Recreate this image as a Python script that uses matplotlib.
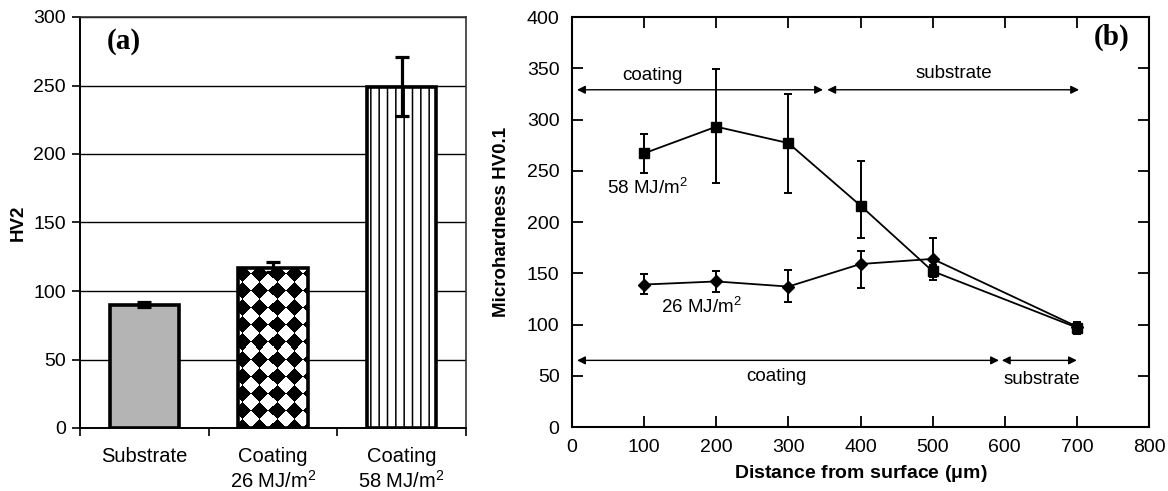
import matplotlib
matplotlib.use("Agg")
import matplotlib.pyplot as plt
import numpy as np

plt.rcParams['font.family'] = ['Liberation Sans', 'DejaVu Sans']
plt.rcParams['mathtext.fontset'] = 'custom'
plt.rcParams['mathtext.rm'] = 'Liberation Sans'
plt.rcParams['mathtext.it'] = 'Liberation Sans:italic'
plt.rcParams['mathtext.bf'] = 'Liberation Sans:bold'

# ---- panel (a) data ----
bar_labels = ["Substrate", "Coating\n26 MJ/m$^{2}$", "Coating\n58 MJ/m$^{2}$"]
bar_values = [90, 117, 249]
bar_err_low = [2, 3, 21]
bar_err_up = [2, 4, 22]
a_yticks = [0, 50, 100, 150, 200, 250, 300]

# ---- panel (b) data ----
depth = [100, 200, 300, 400, 500, 700]
hv_58 = [267, 293, 277, 216, 152, 97]
hv_58_err_low = [19, 55, 49, 32, 9, 6]
hv_58_err_up = [19, 56, 48, 44, 6, 4]
hv_26 = [139, 142, 137, 159, 164, 98]
hv_26_err_low = [9, 10, 15, 23, 18, 6]
hv_26_err_up = [10, 10, 16, 13, 20, 4]
b_xticks = [0, 100, 200, 300, 400, 500, 600, 700, 800]
b_yticks = [0, 50, 100, 150, 200, 250, 300, 350, 400]

fig = plt.figure(figsize=(11.68, 4.91), dpi=100)

# ================= panel (a) =================
axa = fig.add_axes([80/1168, 1-428/491, 386/1168, 411/491])
x = np.arange(len(bar_values))
w = 0.54
axa.set_xlim(-0.5, 2.5)
axa.set_ylim(0, 300)
for yv in a_yticks[1:]:
    axa.axhline(yv, color='black', lw=1.0, zorder=0)

# bar 1: grey
axa.bar(x[0], bar_values[0], w, color='#b4b4b4', edgecolor='black', lw=2.6, zorder=2)

# bar 2: rotated checkerboard texture clipped to the bar
bar2 = axa.bar(x[1], bar_values[1], w, color='white', edgecolor='black', lw=2.6, zorder=3)[0]
bb = axa.get_window_extent()
px_x = bb.width / 3.0
px_y = bb.height / 300.0
W = int(round(w * px_x))
H = int(round(bar_values[1] * px_y))
jj, ii = np.mgrid[0:H, 0:W]
cell = 17.0
pattern = (np.floor((ii + jj + 4) / cell) + np.floor((ii - jj + 4 + 1000 * cell) / cell)) % 2
tex = axa.imshow(pattern, cmap='gray', vmin=0, vmax=1, interpolation='nearest', aspect='auto',
                 extent=(x[1] - w / 2, x[1] + w / 2, 0, bar_values[1]), origin='lower', zorder=2.5)
tex.set_clip_path(bar2)
bar2.set_facecolor('none')

# bar 3: vertical lines
plt.rcParams['hatch.linewidth'] = 1.1
axa.bar(x[2], bar_values[2], w, color='white', edgecolor='black', hatch='||', lw=0, zorder=2)
axa.bar(x[2], bar_values[2], w, fill=False, edgecolor='black', lw=2.6, zorder=3)

axa.errorbar(x, bar_values, yerr=[bar_err_low, bar_err_up], fmt='none', ecolor='black',
             elinewidth=2.3, capsize=5, capthick=2.3, zorder=4)

axa.set_xlim(-0.5, 2.5)
axa.set_ylim(0, 300)
axa.set_yticks(a_yticks)
axa.set_xticks([-0.5, 0.5, 1.5, 2.5])
axa.set_xticklabels([])
axa.set_xticks(x, minor=True)
axa.set_xticklabels(bar_labels, minor=True, fontsize=14.5, linespacing=1.2)
axa.tick_params(axis='x', which='minor', length=0, pad=14)
axa.tick_params(axis='x', which='major', length=6, width=1.2, direction='out')
axa.tick_params(axis='y', length=6, width=1.2, direction='out', labelsize=14, pad=4)
axa.set_ylabel("HV2", fontsize=13.5, fontweight='bold')
axa.yaxis.set_label_coords(-0.137, 0.5)
for s in ['left', 'bottom']:
    axa.spines[s].set_linewidth(1.4)
for s in ['top', 'right']:
    axa.spines[s].set_color('#333333')
    axa.spines[s].set_linewidth(1.2)
axa.text(0.07, 0.94, "(a)", transform=axa.transAxes, fontsize=21, fontweight='bold',
         family='Liberation Serif', ha='left', va='center')

# ================= panel (b) =================
axb = fig.add_axes([572/1168, 1-427/491, 577/1168, 410/491])
axb.errorbar(depth, hv_58, yerr=[hv_58_err_low, hv_58_err_up], color='black', lw=1.3,
             marker='s', markersize=7, elinewidth=1.4, capsize=2.8, capthick=1.4)
axb.errorbar(depth, hv_26, yerr=[hv_26_err_low, hv_26_err_up], color='black', lw=1.3,
             marker='D', markersize=6.5, elinewidth=1.4, capsize=2.8, capthick=1.4)

axb.set_xlim(0, 800)
axb.set_ylim(0, 400)
axb.set_xticks(b_xticks)
axb.set_yticks(b_yticks)
axb.tick_params(direction='in', length=8, width=1.3, top=True, right=True,
                labelsize=14, pad=9)
for s in axb.spines.values():
    s.set_linewidth(1.5)
axb.set_xlabel("Distance from surface ($\\mathbf{\\mu}$m)", fontsize=14, fontweight='bold')
axb.set_ylabel("Microhardness HV0.1", fontsize=13.5, fontweight='bold')
axb.xaxis.set_label_coords(0.5, -0.088)
axb.yaxis.set_label_coords(-0.107, 0.5)

arrow_kw = dict(arrowstyle='<|-|>', color='black', lw=1.0, mutation_scale=12, shrinkA=0, shrinkB=0)
axb.annotate("", xy=(7, 329), xytext=(348, 329), arrowprops=arrow_kw)
axb.annotate("", xy=(354, 329), xytext=(703, 329), arrowprops=arrow_kw)
axb.annotate("", xy=(7, 65), xytext=(592, 65), arrowprops=arrow_kw)
axb.annotate("", xy=(596, 65), xytext=(700, 65), arrowprops=arrow_kw)
tkw = dict(fontsize=13.5, ha='center', va='center')
axb.text(112, 343, "coating", **tkw)
axb.text(530, 345, "substrate", **tkw)
axb.text(284, 49, "coating", **tkw)
axb.text(651, 46, "substrate", **tkw)
axb.text(104, 233, "58 MJ/m$^{2}$", **tkw)
axb.text(180, 117, "26 MJ/m$^{2}$", **tkw)
axb.text(0.936, 0.95, "(b)", transform=axb.transAxes, fontsize=21, fontweight='bold',
         family='Liberation Serif', ha='center', va='center')

fig.savefig("out.png", dpi=100)
